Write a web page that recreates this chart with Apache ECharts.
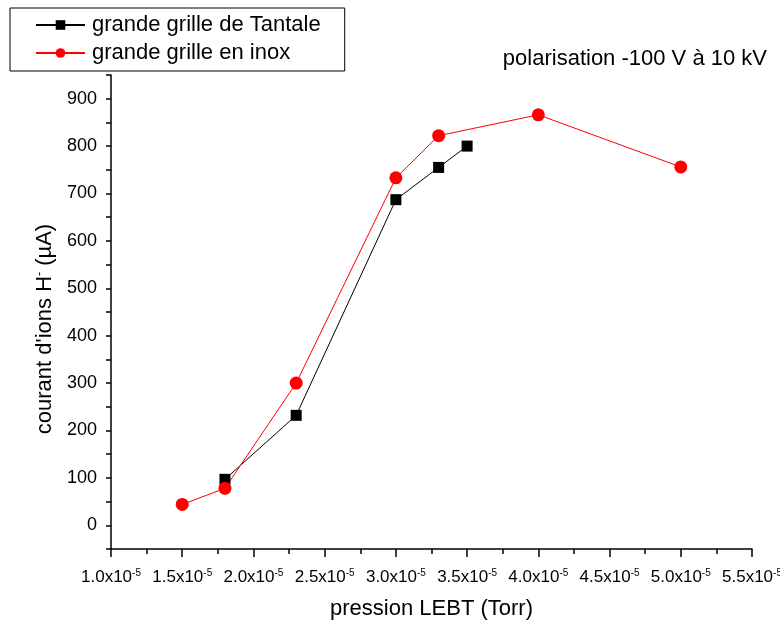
<!DOCTYPE html>
<html><head><meta charset="utf-8">
<script src="https://cdn.jsdelivr.net/npm/echarts@6/dist/echarts.min.js"></script>
<style>html,body{margin:0;padding:0;background:#fff}#c{width:780px;height:621px}</style>
</head><body><div id="c"></div>
<script>
// pression in units of 1e-5 Torr
const tantaleX = [1.8, 2.3, 3.0, 3.3, 3.5];
const tantaleY = [97, 232, 687, 755, 800];
const inoxX = [1.5, 1.8, 2.3, 3.0, 3.3, 4.0, 5.0];
const inoxY = [44, 78, 300, 733, 822, 866, 756];
const seriesNames = ['grande grille de Tantale', 'grande grille en inox'];
const titleText = 'polarisation -100 V à 10 kV';
const xName = 'pression LEBT (Torr)';

const font = 'Liberation Sans, Arial, sans-serif';
const chart = echarts.init(document.getElementById('c'));
chart.setOption({
  animation: false,
  backgroundColor: '#fff',
  title: {text: titleText, right: 8, top: 43, textStyle: {fontFamily: font, fontWeight: 'normal', fontSize: 22, color: '#000'}},
  legend: {
    left: 10, top: 8, orient: 'vertical', itemGap: 6, itemWidth: 49, itemHeight: 12,
    borderColor: '#000', borderWidth: 1, padding: [6, 24, 7, 25],
    textStyle: {fontFamily: font, fontSize: 22, color: '#000', padding: [0, 0, 0, 2]},
    data: seriesNames
  },
  grid: {left: 111, right: 28, top: 75, bottom: 72, outerBoundsMode: 'none', containLabel: false},
  xAxis: {
    type: 'value', min: 1.0, max: 5.5, interval: 0.5,
    name: xName, nameLocation: 'middle', nameGap: 49,
    nameTextStyle: {fontFamily: font, fontSize: 22, color: '#000'},
    axisLine: {onZero: false, lineStyle: {color: '#000', width: 1.5}},
    axisTick: {length: 8, lineStyle: {color: '#000', width: 1.5}},
    minorTick: {show: true, splitNumber: 2, length: 5, lineStyle: {color: '#000', width: 1.5}},
    splitLine: {show: false},
    axisLabel: {
      margin: 19, color: '#000', fontFamily: font, fontSize: 17,
      formatter: v => v.toFixed(1) + 'x10{s|-5}',
      rich: {s: {fontSize: 10, verticalAlign: 'top', padding: [0, 0, 9, 0], fontFamily: font, color: '#000'}}
    }
  },
  yAxis: {
    type: 'value', min: -50, max: 950, interval: 50,
    name: 'courant d\'ions H{s|-} (µA)', nameLocation: 'middle', nameGap: 54,
    nameTextStyle: {fontFamily: font, fontSize: 22, color: '#000', padding: [0, 34, 0, 0],
      rich: {s: {fontSize: 12, verticalAlign: 'top', padding: [0, 0, 11, 0], fontFamily: font, color: '#000'}}},
    axisLine: {lineStyle: {color: '#000', width: 1.5}},
    axisTick: {length: 5, lineStyle: {color: '#000', width: 1.5}},
    splitLine: {show: false},
    axisLabel: {
      margin: 14, color: '#000', fontFamily: font, fontSize: 18,
      formatter: v => (Math.round(v) % 100 === 0 && v >= 0 && v <= 900) ? String(v) : ''
    }
  },
  series: [
    {name: seriesNames[0], type: 'line', data: tantaleX.map((x, i) => [x, tantaleY[i]]),
     symbol: 'rect', symbolSize: 11, color: '#000', lineStyle: {width: 1, color: '#000'}, itemStyle: {color: '#000'}},
    {name: seriesNames[1], type: 'line', data: inoxX.map((x, i) => [x, inoxY[i]]),
     symbol: 'circle', symbolSize: 13, color: '#ff0000', lineStyle: {width: 1, color: '#ff0000'}, itemStyle: {color: '#ff0000'}}
  ]
});
</script></body></html>
